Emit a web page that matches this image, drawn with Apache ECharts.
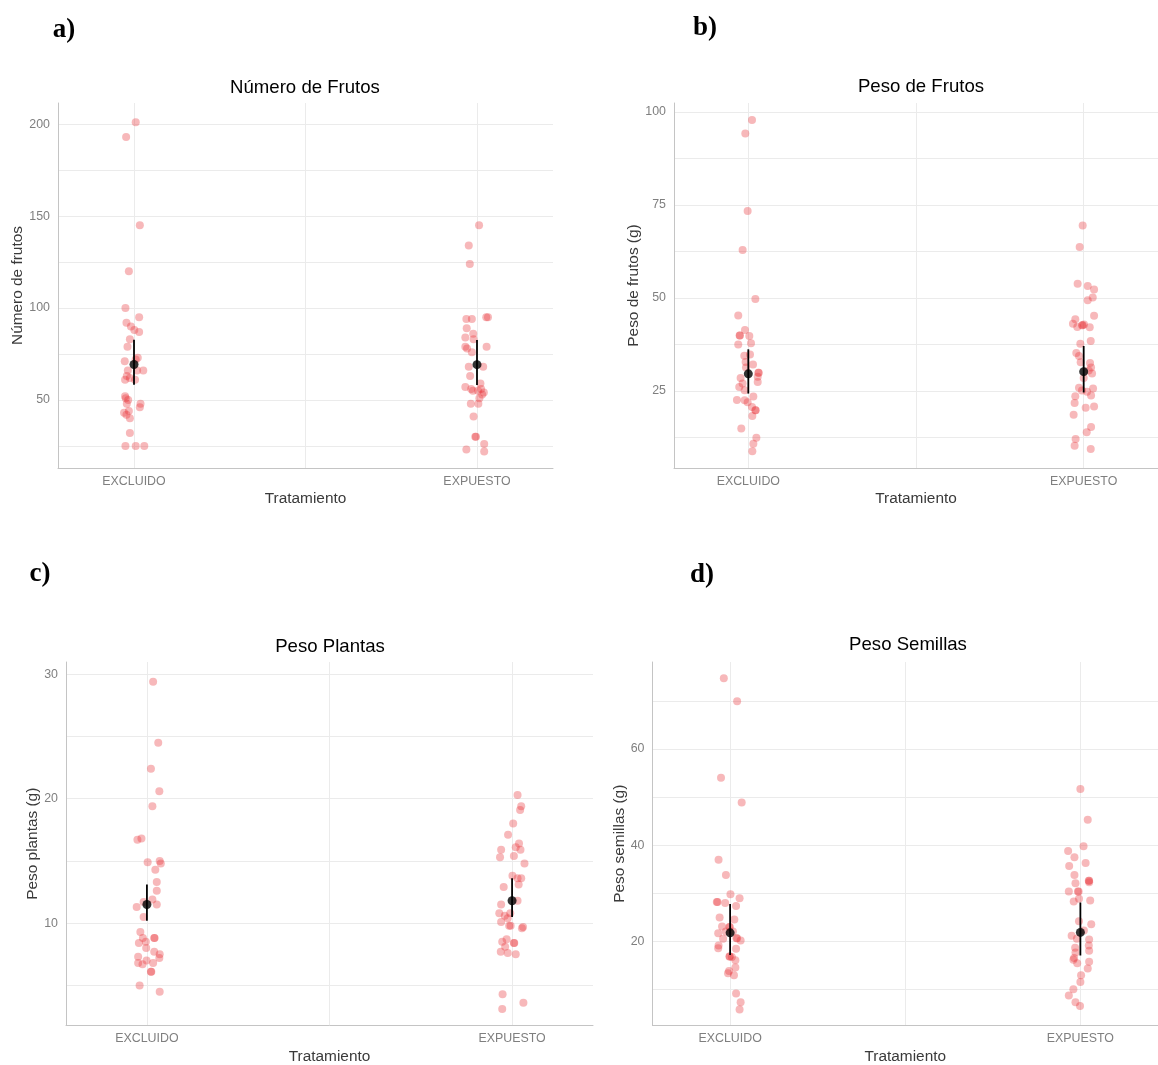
<!DOCTYPE html>
<html><head><meta charset="utf-8">
<script src="https://cdn.jsdelivr.net/npm/echarts@6/dist/echarts.min.js"></script>
<style>html,body{margin:0;padding:0;background:#fff}#c{width:1158px;height:1065px}</style>
</head><body><div id="c"></div>
<script>
// ---------- DATA ----------
const categories = ['EXCLUIDO', 'EXPUESTO'];
const xTitle = 'Tratamiento';

// a) Número de frutos
const frutosExcluido = [201,193,145,120,100,95,92,90,88,87,83,79,73,72,71,66,66,66,63,62,61,61,52,51,50,48,48,46,44,43,42,40,32,25,25,25];
const frutosExcluidoJitter = [0.005,-0.023,0.017,-0.015,-0.025,0.015,-0.022,-0.009,0.001,0.015,-0.012,-0.019,0.011,0.005,-0.027,-0.018,0.027,0.009,-0.021,-0.012,0.003,-0.026,-0.026,-0.024,-0.017,0.019,-0.021,0.017,-0.015,-0.029,-0.022,-0.012,-0.012,-0.025,0.005,0.030];
const frutosExpuesto = [145,134,124,94,94,95,95,89,86,84,83,79,78,79,76,68,68,63,57,56,59,55,56,55,54,53,51,48,48,41,30,30,26,23,22];
const frutosExpuestoJitter = [0.006,-0.024,-0.021,-0.031,-0.015,0.027,0.032,-0.030,-0.011,-0.034,-0.010,-0.034,-0.029,0.028,-0.015,-0.024,0.018,-0.020,-0.034,-0.017,0.010,-0.012,0.012,0.003,0.020,0.015,0.007,-0.018,0.004,-0.010,-0.005,-0.003,0.021,-0.031,0.021];
const frutosMean = [69.3, 69.2];
const frutosLow = [58.3, 58.2];
const frutosHigh = [82.8, 82.6];
const frutosTicks = [50, 100, 150, 200];

// b) Peso de frutos (g)
const pesoFrutosExcluido = [97.8,94.2,73.4,62.9,49.7,45.3,41.4,39.9,39.9,39.8,37.5,37.8,34.5,34.8,32.8,32.1,31.3,29.9,29.9,28.8,28.5,27.0,26.1,27.4,25.2,23.5,22.6,22.5,22.0,20.7,19.8,19.8,18.3,14.9,12.4,10.8,8.8];
const pesoFrutosExcluidoJitter = [0.011,-0.009,-0.002,-0.017,0.021,-0.030,-0.010,-0.026,-0.025,0.003,-0.030,0.008,-0.012,0.005,-0.008,0.014,-0.007,0.031,0.030,0.028,-0.023,-0.017,-0.027,0.028,-0.011,0.015,-0.034,-0.011,-0.002,0.011,0.022,0.021,0.012,-0.021,0.024,0.015,0.012];
const pesoFrutosExpuesto = [69.5,63.7,53.8,53.2,52.3,50.1,49.4,45.2,44.3,43.1,42.2,42.7,42.7,42.9,42.1,38.4,37.7,35.2,34.4,32.7,32.5,31.3,30.5,29.7,28.5,25.9,25.7,25.1,24.8,23.6,23.8,21.8,20.5,20.8,18.6,15.3,13.9,12.1,10.3,9.4];
const pesoFrutosExpuestoJitter = [-0.003,-0.012,-0.018,0.012,0.031,0.027,0.012,0.031,-0.025,-0.032,-0.019,-0.005,-0.003,0.001,0.018,0.021,-0.010,-0.022,-0.014,-0.009,0.019,0.022,0.015,0.025,0.000,-0.014,0.028,-0.005,0.010,-0.025,0.022,-0.027,0.006,0.031,-0.030,0.022,0.009,-0.024,-0.027,0.021];
const pesoFrutosMean = [29.6, 30.2];
const pesoFrutosLow = [24.3, 24.6];
const pesoFrutosHigh = [36.2, 37.1];
const pesoFrutosTicks = [25, 50, 75, 100];

// c) Peso plantas (g)
const plantasExcluido = [29.4,24.5,22.4,20.6,19.4,16.7,16.8,15.0,14.9,14.8,14.3,13.3,12.6,11.9,11.7,11.5,11.3,10.5,9.3,8.8,8.8,8.8,8.4,8.5,8.0,7.7,7.3,7.5,7.2,7.0,6.8,6.7,6.8,6.1,6.1,5.0,4.5];
const plantasExcluidoJitter = [0.017,0.031,0.011,0.034,0.015,-0.026,-0.015,0.035,0.002,0.038,0.023,0.027,0.027,0.015,-0.009,0.027,-0.028,-0.009,-0.018,-0.011,0.021,0.020,-0.022,-0.003,-0.002,0.020,-0.024,0.035,0.034,-0.001,-0.024,-0.012,0.017,0.012,0.011,-0.020,0.035];
const plantasExpuesto = [20.3,19.4,19.1,18.0,17.1,16.4,16.1,15.9,15.9,15.3,15.4,14.8,13.8,13.6,13.6,13.1,12.9,11.8,11.5,10.8,10.6,10.8,10.4,10.1,9.8,9.8,9.7,9.6,8.7,8.5,8.4,8.4,8.1,7.7,7.6,7.5,4.3,3.6,3.1];
const plantasExpuestoJitter = [0.015,0.025,0.022,0.003,-0.011,0.019,0.010,0.023,-0.030,-0.033,0.005,0.034,0.001,0.015,0.025,0.018,-0.023,0.015,-0.030,-0.035,-0.020,-0.005,-0.012,-0.030,-0.004,-0.008,0.030,0.027,-0.015,-0.027,0.005,0.006,-0.019,-0.031,-0.012,0.010,-0.026,0.031,-0.027];
const plantasMean = [11.5, 11.8];
const plantasLow = [10.2, 10.5];
const plantasHigh = [13.1, 13.6];
const plantasTicks = [10, 20, 30];

// d) Peso semillas (g)
const semillasExcluido = [74.7,69.9,54.0,48.9,37.0,33.8,29.8,29.0,28.2,28.2,28.0,27.4,25.0,24.6,23.1,23.0,23.0,22.1,21.7,22.1,20.6,20.7,20.7,20.2,19.2,18.6,18.5,16.9,16.9,16.8,16.1,14.6,13.9,13.4,13.0,9.2,7.4,5.9];
const semillasExcluidoJitter = [-0.018,0.020,-0.026,0.033,-0.033,-0.012,0.001,0.027,-0.038,-0.036,-0.014,0.017,-0.030,0.012,-0.023,-0.002,-0.001,-0.012,-0.034,0.008,-0.020,0.018,0.020,0.030,-0.033,-0.034,0.017,-0.002,-0.001,0.005,0.015,0.015,-0.003,-0.006,0.011,0.017,0.030,0.027];
const semillasExpuesto = [51.7,45.3,39.8,38.8,37.5,36.3,35.7,33.8,32.6,32.6,32.3,32.1,30.4,30.4,30.4,28.9,28.3,28.5,24.2,23.6,22.3,21.2,20.6,20.4,19.2,18.1,18.7,17.7,16.6,16.2,15.5,15.8,14.4,13.0,11.6,10.1,8.8,7.4,6.6];
const semillasExpuestoJitter = [0.000,0.021,0.009,-0.035,-0.017,0.015,-0.032,-0.017,0.025,0.024,0.025,-0.014,-0.033,-0.007,-0.005,-0.004,-0.019,0.028,-0.004,0.031,0.010,-0.025,-0.010,0.025,0.024,0.025,-0.015,-0.014,-0.018,-0.020,-0.009,0.025,0.021,0.002,0.000,-0.020,-0.033,-0.014,-0.001];
const semillasMean = [21.8, 21.9];
const semillasLow = [17.2, 17.1];
const semillasHigh = [27.8, 28.1];
const semillasTicks = [20, 40, 60];

// ---------- LAYOUT / STYLE ----------
const FONT = '"Liberation Sans", Arial, sans-serif';
const SERIF = '"Liberation Serif", "Times New Roman", serif';
const panels = [
  { tag: 'a)', tagPos: [64, 30], title: 'Número de Frutos', titlePos: [305, 88], yName: 'Número de frutos', yGap: 30,
    grid: { left: 58, top: 103, width: 495, height: 365 }, yMin: 13, yMax: 211.5,
    exc: frutosExcluido, excJ: frutosExcluidoJitter, exp: frutosExpuesto, expJ: frutosExpuestoJitter,
    mean: frutosMean, low: frutosLow, high: frutosHigh, ticks: frutosTicks },
  { tag: 'b)', tagPos: [705, 28], title: 'Peso de Frutos', titlePos: [921, 87], yName: 'Peso de frutos (g)', yGap: 26,
    grid: { left: 674, top: 103, width: 494, height: 365 }, yMin: 4.3, yMax: 102.4,
    exc: pesoFrutosExcluido, excJ: pesoFrutosExcluidoJitter, exp: pesoFrutosExpuesto, expJ: pesoFrutosExpuestoJitter,
    mean: pesoFrutosMean, low: pesoFrutosLow, high: pesoFrutosHigh, ticks: pesoFrutosTicks },
  { tag: 'c)', tagPos: [40, 574], title: 'Peso Plantas', titlePos: [330, 647], yName: 'Peso plantas (g)', yGap: 20,
    grid: { left: 66, top: 662, width: 527, height: 365 }, yMin: 1.78, yMax: 30.98,
    exc: plantasExcluido, excJ: plantasExcluidoJitter, exp: plantasExpuesto, expJ: plantasExpuestoJitter,
    mean: plantasMean, low: plantasLow, high: plantasHigh, ticks: plantasTicks },
  { tag: 'd)', tagPos: [702, 575], title: 'Peso Semillas', titlePos: [908, 645], yName: 'Peso semillas (g)', yGap: 23,
    grid: { left: 652.5, top: 662, width: 516, height: 365 }, yMin: 2.56, yMax: 78.06,
    exc: semillasExcluido, excJ: semillasExcluidoJitter, exp: semillasExpuesto, expJ: semillasExpuestoJitter,
    mean: semillasMean, low: semillasLow, high: semillasHigh, ticks: semillasTicks }
];

const X_MIN = 0.7784, X_MAX = 2.2216;
const grids = [], xAxes = [], yAxes = [], series = [], graphics = [];
const GRID_COLOR = '#ebebeb', AXIS_COLOR = '#c4c4c4';
const TICK_SIZE = 12.4, AXIS_TITLE_SIZE = 15.4, TITLE_SIZE = 18.6;

panels.forEach((p, i) => {
  grids.push(Object.assign({ containLabel: false }, p.grid));
  xAxes.push({
    type: 'value', gridIndex: i, min: X_MIN, max: X_MAX, z: 1,
    axisLine: { show: true, lineStyle: { color: AXIS_COLOR, width: 1 } },
    axisTick: { show: false },
    splitLine: { show: false },
    axisLabel: { customValues: [1, 2], formatter: v => categories[Math.round(v) - 1] || '',
      color: '#7f7f7f', fontSize: TICK_SIZE, fontFamily: FONT, margin: 7.5 },
    name: xTitle, nameLocation: 'middle', nameGap: 23.5,
    nameTextStyle: { color: '#3a3a3a', fontSize: AXIS_TITLE_SIZE, fontFamily: FONT }
  });
  yAxes.push({
    type: 'value', gridIndex: i, min: p.yMin, max: p.yMax, z: 1,
    axisLine: { show: true, lineStyle: { color: AXIS_COLOR, width: 1 } },
    axisTick: { show: false },
    splitLine: { show: false },
    axisLabel: { customValues: p.ticks, color: '#7f7f7f', fontSize: TICK_SIZE, fontFamily: FONT, margin: 8 },
    name: p.yName, nameLocation: 'middle', nameGap: p.yGap, nameRotate: 90,
    nameTextStyle: { color: '#3a3a3a', fontSize: AXIS_TITLE_SIZE, fontFamily: FONT }
  });
  // grid lines (major + minor) from tick step
  const step = (p.ticks[1] - p.ticks[0]) / 2;
  const hLines = [];
  for (let v = Math.ceil(p.yMin / step) * step; v <= p.yMax; v += step) hLines.push({ yAxis: v });
  const vLines = [1, 1.5, 2].map(v => ({ xAxis: v }));
  series.push({
    type: 'scatter', xAxisIndex: i, yAxisIndex: i, data: [], z: 0, silent: true,
    markLine: { z: 0, silent: true, symbol: ['none', 'none'], label: { show: false }, animation: false,
      lineStyle: { color: GRID_COLOR, width: 1, type: 'solid' }, emphasis: { disabled: true },
      data: hLines.concat(vLines) }
  });
  const pts = p.exc.map((v, k) => [1 + p.excJ[k], v]).concat(p.exp.map((v, k) => [2 + p.expJ[k], v]));
  series.push({
    type: 'scatter', xAxisIndex: i, yAxisIndex: i, data: pts, z: 6, symbolSize: 8,
    itemStyle: { color: 'rgba(232, 45, 50, 0.42)', borderWidth: 0 }, silent: true, animation: false
  });
  series.push({
    type: 'custom', xAxisIndex: i, yAxisIndex: i, z: 7, silent: true, animation: false,
    data: [[1, p.low[0], p.high[0]], [2, p.low[1], p.high[1]]],
    renderItem: (params, api) => {
      const a = api.coord([api.value(0), api.value(1)]);
      const b = api.coord([api.value(0), api.value(2)]);
      return { type: 'line', shape: { x1: a[0], y1: a[1], x2: b[0], y2: b[1] },
        style: { stroke: '#000', lineWidth: 1.8 } };
    }
  });
  series.push({
    type: 'scatter', xAxisIndex: i, yAxisIndex: i, z: 8, symbolSize: 9, silent: true, animation: false,
    data: [[1, p.mean[0]], [2, p.mean[1]]], itemStyle: { color: '#000' }
  });
  graphics.push({ type: 'text', x: p.titlePos[0], y: p.titlePos[1],
    style: { text: p.title, fill: '#000', font: TITLE_SIZE + 'px ' + FONT, align: 'center', verticalAlign: 'middle', textAlign: 'center', textVerticalAlign: 'middle' } });
  graphics.push({ type: 'text', x: p.tagPos[0], y: p.tagPos[1],
    style: { text: p.tag, fill: '#000', font: 'bold 27px ' + SERIF, align: 'center', verticalAlign: 'middle', textAlign: 'center', textVerticalAlign: 'middle' } });
});

const chart = echarts.init(document.getElementById('c'), null, { renderer: 'canvas' });
chart.setOption({
  backgroundColor: '#fff', animation: false,
  grid: grids, xAxis: xAxes, yAxis: yAxes, series: series, graphic: graphics
});
</script></body></html>
